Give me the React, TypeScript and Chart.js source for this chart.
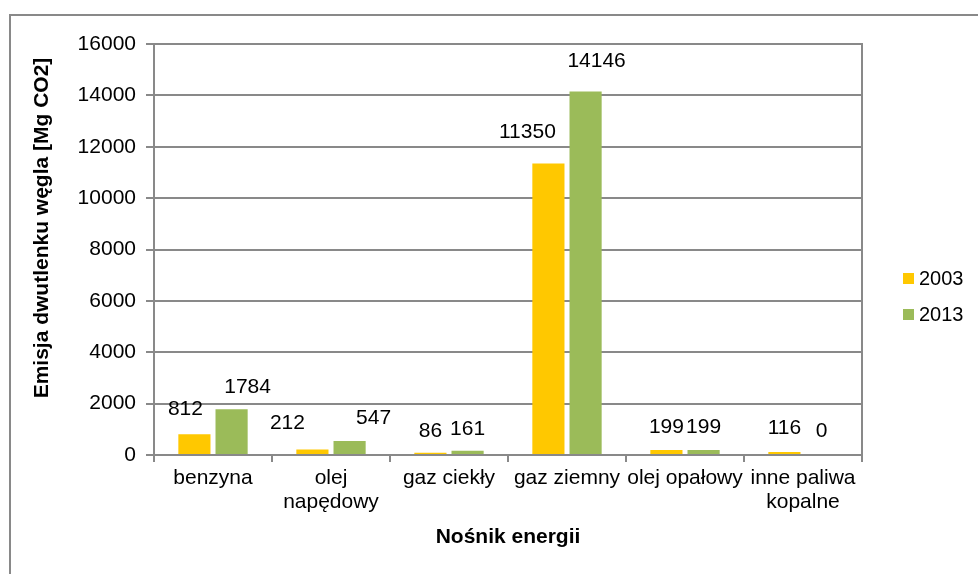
import React, { useEffect, useRef } from "react";
import { Chart, registerables } from "chart.js";

Chart.register(...registerables);

const categories: (string | string[])[] = [
  "benzyna",
  ["olej", "napędowy"],
  "gaz ciekły",
  "gaz ziemny",
  "olej opałowy",
  ["inne paliwa", "kopalne"],
];
const values2003 = [812, 212, 86, 11350, 199, 116];
const values2013 = [1784, 547, 161, 14146, 199, 0];
const seriesLabels = ["2003", "2013"];
const yTitle = "Emisja dwutlenku węgla [Mg CO2]";
const xTitle = "Nośnik energii";

const FONT = "'Liberation Sans', Arial, sans-serif";
const GRID = "#898989";
const COLORS = ["#FFC800", "#9BBB59"];

// label nudges (px) mimicking manually placed Excel data labels
const labelDx = [
  [-9, -25, 0, -21, 0, 0],
  [16, 24, 0, 11, 0, 0],
];
const labelDy = [
  [-25, -26, -22, -31, -23, -24],
  [-22, -23, -22, -30, -23, -24],
];

const decorPlugin = {
  id: "decor",
  afterDraw(chart: any) {
    const ctx = chart.ctx;
    const area = chart.chartArea;
    ctx.save();
    // outer chart border
    ctx.strokeStyle = GRID;
    ctx.lineWidth = 2;
    ctx.strokeRect(10, 15, 1000, 600);
    // right border of plot area
    ctx.beginPath();
    ctx.moveTo(area.right, area.top - 1);
    ctx.lineTo(area.right, area.bottom);
    ctx.stroke();

    // data labels
    ctx.fillStyle = "#000";
    ctx.font = `21px ${FONT}`;
    ctx.textAlign = "center";
    ctx.textBaseline = "middle";
    chart.data.datasets.forEach((ds: any, di: number) => {
      const meta = chart.getDatasetMeta(di);
      meta.data.forEach((el: any, i: number) => {
        ctx.fillText(String(ds.data[i]), el.x + labelDx[di][i], el.y + labelDy[di][i]);
      });
    });

    // axis titles
    ctx.font = `bold 21px ${FONT}`;
    ctx.fillText(xTitle, (area.left + area.right) / 2, 537);
    ctx.save();
    ctx.translate(42, 228);
    ctx.rotate(-Math.PI / 2);
    ctx.fillText(yTitle, 0, 0);
    ctx.restore();

    // legend
    ctx.font = `20px ${FONT}`;
    ctx.textAlign = "left";
    seriesLabels.forEach((lab, i) => {
      const y = 273 + i * 36;
      ctx.fillStyle = COLORS[i];
      ctx.fillRect(903, y, 11, 11);
      ctx.fillStyle = "#000";
      ctx.fillText(lab, 919, y + 6);
    });
    ctx.restore();
  },
};

export default function App() {
  const ref = useRef<HTMLCanvasElement | null>(null);
  useEffect(() => {
    if (!ref.current) return;
    const chart = new Chart(ref.current, {
      type: "bar",
      data: {
        labels: categories,
        datasets: [
          { label: seriesLabels[0], data: values2003, backgroundColor: COLORS[0] },
          { label: seriesLabels[1], data: values2013, backgroundColor: COLORS[1] },
        ],
      },
      options: {
        animation: false,
        responsive: false,
        devicePixelRatio: 1,
        layout: { padding: { top: 44, right: 116, left: 0, bottom: 0 } },
        datasets: { bar: { categoryPercentage: 0.63, barPercentage: 0.865 } },
        plugins: { legend: { display: false }, tooltip: { enabled: false }, title: { display: false } },
        scales: {
          x: {
            afterFit: (s: any) => { s.height = 119; },
            grid: { offset: true, drawOnChartArea: false, drawTicks: true, tickLength: 7, color: GRID, lineWidth: 2 },
            border: { display: true, color: GRID, width: 2 },
            ticks: { color: "#000", font: { family: FONT, size: 21, lineHeight: 1.15 }, padding: 4, maxRotation: 0, autoSkip: false },
          },
          y: {
            min: 0,
            max: 16000,
            afterFit: (s: any) => { s.width = 154; },
            grid: { color: GRID, lineWidth: 2, tickLength: 8 },
            border: { display: true, color: GRID, width: 2 },
            ticks: {
              stepSize: 2000,
              color: "#000",
              font: { family: FONT, size: 21 },
              padding: 10,
              callback: (v: any) => String(v),
            },
          },
        },
      },
      plugins: [decorPlugin],
    } as any);
    return () => chart.destroy();
  }, []);
  return (
    <div style={{ position: "absolute", left: 0, top: 0, width: 978, height: 574, background: "#fff" }}>
      <canvas ref={ref} width={978} height={574} style={{ display: "block", width: 978, height: 574 }} />
    </div>
  );
}
